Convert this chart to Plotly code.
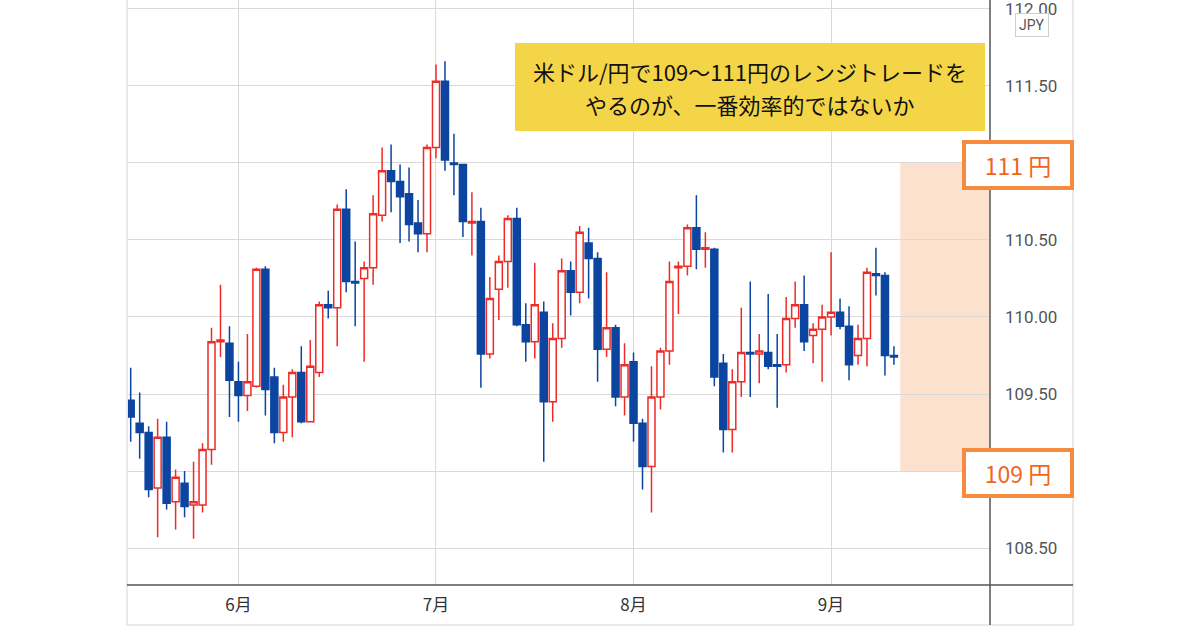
import pandas as pd
import plotly.graph_objects as go

# USD/JPY daily candles, 2021-05-14 .. 2021-09-10 (business days)
dates = pd.bdate_range("2021-05-14", "2021-09-10").strftime("%Y-%m-%d").tolist()

opens = [109.46, 109.31, 109.25, 108.89, 109.22, 108.80, 108.92, 108.78, 108.78, 109.14,
         109.84, 109.83, 109.58, 109.49, 109.55, 110.31, 109.61, 109.25, 109.48, 109.64,
         109.32, 109.64, 110.08, 110.06, 110.70, 110.23, 110.25, 110.32, 110.66, 110.95,
         110.88, 110.80, 110.61, 110.54, 111.10, 111.53, 111.00, 110.99, 110.61, 110.62,
         109.76, 110.18, 110.36, 110.64, 109.95, 109.84, 110.03, 109.45, 109.86, 110.30,
         110.16, 110.48, 110.38, 109.79, 109.93, 109.48, 109.71, 109.31, 109.03, 109.48,
         109.78, 110.32, 110.33, 110.58, 110.44, 110.44, 109.70, 109.27, 109.58, 109.77,
         109.76, 109.77, 109.69, 109.69, 109.99, 110.08, 109.88, 109.92, 110.00, 110.03,
         109.94, 109.75, 109.86, 110.28, 110.27, 109.75]
highs = [109.67, 109.51, 109.29, 109.34, 109.32, 109.01, 109.00, 109.06, 109.18, 109.93,
         110.21, 109.94, 109.71, 109.89, 110.32, 110.33, 109.67, 109.56, 109.66, 109.81,
         109.85, 110.10, 110.17, 110.73, 110.83, 110.49, 110.36, 110.79, 111.10, 111.12,
         110.99, 110.97, 110.76, 111.12, 111.64, 111.66, 111.19, 110.99, 110.81, 110.71,
         110.26, 110.40, 110.66, 110.71, 110.09, 110.35, 110.10, 109.96, 110.38, 110.36,
         110.59, 110.58, 110.42, 110.29, 109.95, 109.83, 109.77, 109.34, 109.68, 109.80,
         110.36, 110.36, 110.60, 110.79, 110.55, 110.45, 109.76, 109.66, 110.06, 110.23,
         109.89, 110.15, 109.89, 110.13, 110.23, 110.27, 109.96, 110.08, 110.42, 110.12,
         110.07, 109.95, 110.32, 110.45, 110.29, 109.81]
lows = [109.19, 109.08, 108.83, 108.57, 108.75, 108.62, 108.70, 108.56, 108.73, 109.04,
        109.74, 109.35, 109.32, 109.39, 109.54, 109.36, 109.18, 109.19, 109.22, 109.31,
        109.32, 109.61, 109.99, 109.81, 110.16, 109.94, 109.71, 110.21, 110.62, 110.68,
        110.48, 110.49, 110.42, 110.42, 111.03, 110.95, 110.79, 110.52, 110.40, 109.54,
        109.73, 109.98, 110.19, 109.94, 109.71, 109.73, 109.06, 109.32, 109.80, 110.01,
        110.09, 110.12, 109.58, 109.74, 109.42, 109.36, 109.19, 108.88, 108.73, 109.40,
        109.69, 110.02, 110.27, 110.31, 110.32, 109.55, 109.12, 109.12, 109.48, 109.48,
        109.57, 109.66, 109.41, 109.64, 109.93, 109.78, 109.70, 109.58, 109.88, 109.92,
        109.59, 109.69, 109.68, 110.14, 109.62, 109.69]
closes = [109.35, 109.25, 108.88, 109.22, 108.79, 108.96, 108.77, 108.80, 109.14, 109.84,
          109.85, 109.59, 109.49, 109.58, 110.31, 109.53, 109.25, 109.48, 109.64, 109.32,
          109.68, 110.08, 110.06, 110.70, 110.23, 110.22, 110.32, 110.67, 110.95, 110.88,
          110.78, 110.60, 110.54, 111.10, 111.53, 111.02, 110.99, 110.62, 110.62, 109.76,
          110.12, 110.36, 110.64, 109.95, 109.84, 110.08, 109.45, 109.86, 110.30, 110.16,
          110.55, 110.38, 109.79, 109.93, 109.48, 109.69, 109.31, 109.03, 109.48, 109.78,
          110.23, 110.33, 110.58, 110.44, 110.45, 109.61, 109.27, 109.58, 109.77, 109.76,
          109.78, 109.68, 109.68, 109.99, 110.08, 109.84, 109.92, 110.00, 110.03, 109.94,
          109.69, 109.86, 110.29, 110.27, 109.75, 109.74]

month_ticks = ["2021-06-01", "2021-07-01", "2021-08-02", "2021-09-01"]
month_labels = ["6月", "7月", "8月", "9月"]
price_ticks = [108.5, 109.0, 109.5, 110.0, 110.5, 111.0, 111.5, 112.0]
# 109 and 111 labels sit under the orange tags
price_labels = ["108.50", "", "109.50", "110.00", "110.50", "", "111.50", "112.00"]

UP = "#ee2b26"
DOWN = "#0b45a0"

# pixel helpers for the plot box (left 128, right 990, top 0, bottom 585)
def px(x):
    return (x - 128) / 862

def py(y):
    return (585 - y) / 585

fig = go.Figure(go.Candlestick(
    x=dates, open=opens, high=highs, low=lows, close=closes,
    increasing=dict(line=dict(color=UP, width=1.5), fillcolor="white"),
    decreasing=dict(line=dict(color=DOWN, width=1.5), fillcolor=DOWN),
    whiskerwidth=0, hoverinfo="skip",
))

fig.update_layout(
    width=1200, height=630,
    margin=dict(l=128, r=210, t=0, b=45),
    paper_bgcolor="white", plot_bgcolor="white",
    showlegend=False, boxgap=0.22, boxgroupgap=0,
    font=dict(family="Noto Sans CJK JP, sans-serif", color="#444"),
)
fig.update_xaxes(
    type="category", range=[-0.3, 95.7], rangeslider_visible=False,
    tickvals=month_ticks, ticktext=month_labels, ticks="",
    showgrid=True, gridcolor="#d9d9d9", gridwidth=1,
    showline=False, zeroline=False, ticklabelstandoff=8,
    tickfont=dict(size=17, color="#333", family="Noto Sans CJK JP"),
)
fig.update_yaxes(
    side="right", range=[108.26, 112.058], tickvals=price_ticks, ticktext=price_labels,
    ticks="", showgrid=True, gridcolor="#d9d9d9", gridwidth=1,
    showline=False, zeroline=False, ticklabelstandoff=14, ticklabeloverflow="allow",
    tickfont=dict(size=17, color="#555", family="Roboto"),
)

shapes = [
    # target range band
    dict(type="rect", xref="x", yref="y", x0=85.7, x1=95.7, y0=109, y1=111,
         fillcolor="#fde1cf", line_width=0, layer="below"),
    # outer frame
    dict(type="rect", xref="paper", yref="paper", x0=px(127), x1=px(1073), y0=py(625), y1=py(-3),
         line=dict(color="#e3e3e3", width=1.5), fillcolor="rgba(0,0,0,0)", layer="above"),
    # axis lines
    dict(type="line", xref="paper", yref="paper", x0=px(127), x1=px(1073), y0=0, y1=0,
         line=dict(color="#555", width=1.5)),
    dict(type="line", xref="paper", yref="paper", x0=1, x1=1, y0=py(625), y1=py(-3),
         line=dict(color="#555", width=1.5)),
    # yellow comment box
    dict(type="rect", xref="paper", yref="paper", x0=px(515), x1=px(985), y0=py(131), y1=py(43),
         fillcolor="#f4d548", line_width=0),
]
fig.update_layout(shapes=shapes)

annotations = [
    dict(text="米ドル/円で109～111円のレンジトレードを", x=px(750), y=py(71),
         font=dict(size=22, color="#111")),
    dict(text="やるのが、一番効率的ではないか", x=px(750), y=py(104),
         font=dict(size=22, color="#111")),
    dict(text="JPY", x=px(1032), y=py(25), font=dict(size=14, color="#555", family="Roboto"),
         bgcolor="white", bordercolor="#cfcfcf", borderwidth=1, borderpad=3),
    dict(text="111 円", x=px(1018), y=py(165), width=104, height=42,
         font=dict(size=23, color="#f0661a"), bgcolor="white",
         bordercolor="#f68a3e", borderwidth=4, borderpad=0),
    dict(text="109 円", x=px(1018), y=py(473), width=104, height=42,
         font=dict(size=23, color="#f0661a"), bgcolor="white",
         bordercolor="#f68a3e", borderwidth=4, borderpad=0),
]
for a in annotations:
    a.update(xref="paper", yref="paper", showarrow=False, xanchor="center", yanchor="middle")
fig.update_layout(annotations=annotations)

# drop the browser's default body margin so the 1200x630 figure fills the window
fig.write_html("out.html", config={"displayModeBar": False},
               post_script="document.body.style.margin='0';")
